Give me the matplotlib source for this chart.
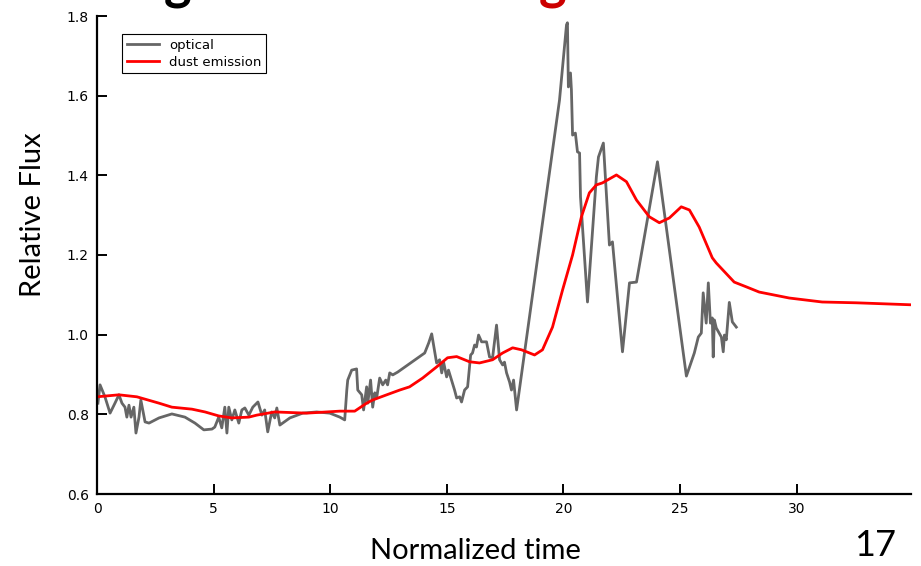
import matplotlib
matplotlib.use("Agg")
import matplotlib.pyplot as plt
import numpy as np

# ---- data ----
optical_t = [0.04, 0.13, 0.34, 0.56, 0.77, 0.94, 1.07, 1.20, 1.28, 1.37, 1.46, 1.58, 1.67, 1.80, 1.88,
             2.06, 2.23, 2.66, 3.21, 3.77, 4.20, 4.58, 4.93, 5.05, 5.22, 5.35, 5.48, 5.57, 5.65, 5.78,
             5.91, 6.08, 6.21, 6.34, 6.51, 6.68, 6.90, 7.07, 7.19, 7.32, 7.49, 7.62, 7.71, 7.84, 8.27,
             8.82, 9.42, 9.98, 10.41, 10.62, 10.71, 10.75, 10.92, 11.13, 11.18, 11.35, 11.43, 11.56,
             11.61, 11.73, 11.82, 11.91, 11.99, 12.12, 12.25, 12.38, 12.46, 12.55, 12.68, 12.89,
             14.05, 14.22, 14.35, 14.48, 14.56, 14.69, 14.78, 14.86, 14.99, 15.07, 15.20, 15.33,
             15.42, 15.55, 15.63, 15.76, 15.89, 16.02, 16.10, 16.19, 16.27, 16.36, 16.49, 16.70,
             16.83, 16.96, 17.13, 17.26, 17.39, 17.47, 17.56, 17.69, 17.77, 17.86, 17.99,
             19.83, 20.13, 20.17, 20.21, 20.30, 20.34, 20.39, 20.51, 20.60, 20.69, 20.73, 21.03,
             21.41, 21.50, 21.71, 21.97, 22.10, 22.53, 22.83, 23.13, 24.03, 25.27, 25.61, 25.78,
             25.91, 25.99, 26.12, 26.21, 26.30, 26.38, 26.42, 26.47, 26.55, 26.77, 26.85, 26.90,
             26.98, 27.11, 27.24, 27.41]
optical_flux = [0.828, 0.874, 0.844, 0.803, 0.828, 0.849, 0.828, 0.818, 0.793, 0.823, 0.793, 0.818,
                0.753, 0.793, 0.836, 0.781, 0.778, 0.791, 0.801, 0.793, 0.778, 0.761, 0.763, 0.768,
                0.793, 0.766, 0.818, 0.753, 0.818, 0.786, 0.811, 0.778, 0.811, 0.816, 0.798, 0.818,
                0.831, 0.798, 0.811, 0.756, 0.806, 0.791, 0.816, 0.773, 0.791, 0.803, 0.806, 0.803,
                0.793, 0.786, 0.861, 0.886, 0.911, 0.914, 0.861, 0.849, 0.811, 0.869, 0.828, 0.886,
                0.818, 0.854, 0.841, 0.891, 0.874, 0.886, 0.874, 0.904, 0.899, 0.906,
                0.954, 0.979, 1.002, 0.957, 0.929, 0.937, 0.904, 0.931, 0.894, 0.911, 0.886, 0.861,
                0.841, 0.844, 0.831, 0.861, 0.869, 0.949, 0.954, 0.974, 0.969, 0.999, 0.982, 0.982,
                0.944, 0.942, 1.024, 0.937, 0.924, 0.931, 0.904, 0.881, 0.861, 0.886, 0.811,
                1.589, 1.778, 1.783, 1.622, 1.657, 1.615, 1.501, 1.506, 1.459, 1.456, 1.346, 1.082,
                1.396, 1.446, 1.481, 1.225, 1.233, 0.957, 1.130, 1.132, 1.434, 0.896, 0.954, 0.994,
                1.004, 1.105, 1.029, 1.130, 1.029, 1.042, 0.944, 1.037, 1.017, 0.994, 0.957, 0.999,
                0.987, 1.081, 1.032, 1.019]

dust_t = [0.0, 0.94, 1.71, 2.66, 3.21, 4.07, 4.63, 5.22, 5.78, 6.51, 6.85, 7.62, 8.99, 10.41, 11.05,
          11.56, 11.82, 12.42, 12.98, 13.40, 13.96, 14.56, 15.03, 15.42, 15.97, 16.40, 16.96, 17.39,
          17.82, 18.20, 18.76, 19.10, 19.53, 19.96, 20.39, 20.77, 21.11, 21.41, 21.67, 22.27, 22.70,
          23.13, 23.68, 24.11, 24.54, 25.05, 25.40, 25.82, 26.38, 26.55, 27.32, 27.84, 28.39, 29.68,
          31.09, 32.55, 34.90]
dust_flux = [0.844, 0.849, 0.844, 0.828, 0.818, 0.813, 0.806, 0.796, 0.791, 0.793, 0.798, 0.806,
             0.803, 0.808, 0.808, 0.828, 0.836, 0.849, 0.861, 0.869, 0.891, 0.919, 0.942, 0.945,
             0.932, 0.929, 0.937, 0.954, 0.967, 0.962, 0.949, 0.962, 1.019, 1.112, 1.200, 1.296,
             1.356, 1.376, 1.381, 1.401, 1.384, 1.338, 1.296, 1.281, 1.293, 1.321, 1.313, 1.270,
             1.193, 1.180, 1.132, 1.120, 1.107, 1.092, 1.082, 1.080, 1.075]

x_ticks = [0, 5, 10, 15, 20, 25, 30]
y_ticks = [0.6, 0.8, 1.0, 1.2, 1.4, 1.6, 1.8]

# ---- figure ----
fig = plt.figure(figsize=(9.21, 5.66), dpi=100)
ax = fig.add_axes([97/921, 1 - 494/566, 814/921, 478/566])

ax.plot(optical_t, optical_flux, color='#666666', lw=2.0, label='optical', solid_joinstyle='round')
ax.plot(dust_t, dust_flux, color='#ff0000', lw=2.0, label='dust emission', solid_joinstyle='round')

ax.set_xlim(0, 34.9)
ax.set_ylim(0.6, 1.8)
ax.set_xticks(x_ticks)
ax.set_yticks(y_ticks)
ax.set_yticklabels([f"{v:.1f}" for v in y_ticks])

for s in ['top', 'right']:
    ax.spines[s].set_visible(False)
for s in ['left', 'bottom']:
    ax.spines[s].set_linewidth(1.6)
    ax.spines[s].set_color('black')

tickfont = ['Liberation Sans Narrow', 'DejaVu Sans']
ax.tick_params(direction='in', length=7, width=1.4, labelsize=10, pad=6)
for lab in ax.get_xticklabels() + ax.get_yticklabels():
    lab.set_family(tickfont)

leg = ax.legend(loc='upper left', bbox_to_anchor=(0.031, 0.962), fontsize=9.5,
                frameon=True, fancybox=False, edgecolor='black', framealpha=1,
                handlelength=2.4, borderpad=0.35, labelspacing=0.3, borderaxespad=0)
leg.get_frame().set_linewidth(0.8)

labfont = ['Lato', 'DejaVu Sans']
fig.text(475/921, 1 - 551/566, 'Normalized time', ha='center', va='center', fontsize=21, family=labfont)
fig.text(33/921, 1 - 215/566, 'Relative Flux', ha='center', va='center', rotation=90, fontsize=21, family=labfont)
fig.text(875/921, 1 - 545/566, '17', ha='center', va='center', fontsize=26, family=labfont)

# cut-off slide title fragments (the reference slide shows only their descenders)
fig.text(178/921, 1.0 + 1/566, 'g', ha='center', va='baseline', fontsize=38, fontweight='bold',
         color='black', family=labfont)
fig.text(553/921, 1.0 + 1/566, 'g', ha='center', va='baseline', fontsize=38, fontweight='bold',
         color='#cc0000', family=labfont)

fig.savefig('out.png', dpi=100)
